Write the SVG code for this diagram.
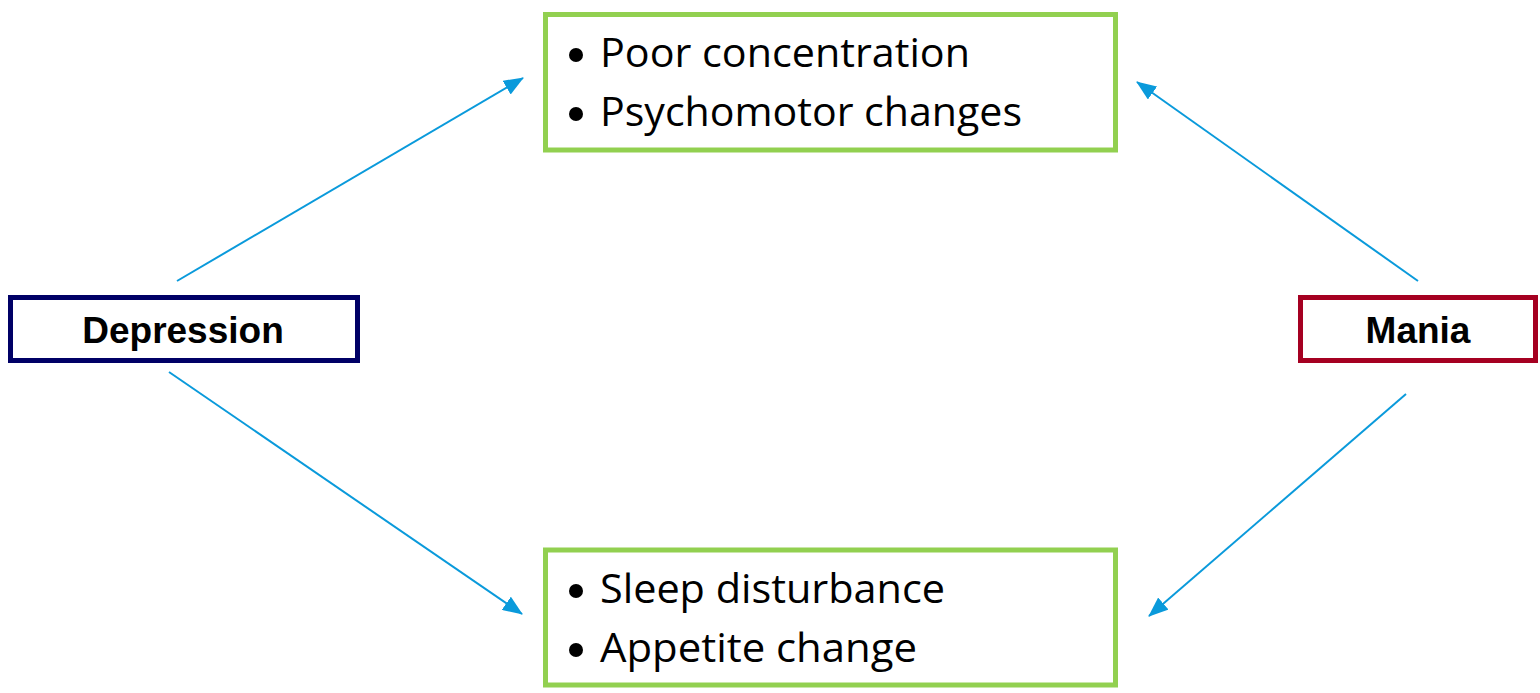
<svg xmlns="http://www.w3.org/2000/svg" width="1540" height="693" viewBox="0 0 1540 693">
  <style>
    .sym { fill: #ffffff; stroke: #92D050; stroke-width: 5; }
    .item { font-family: "Open Sans", "Noto Sans", sans-serif; font-size: 40px; fill: #000000; }
    .dot { fill: #000000; }
    .label { font-family: "Liberation Sans", Arial, sans-serif; font-size: 37px; font-weight: bold; fill: #000000; text-anchor: middle; }
    .link { stroke: #0A9ADB; stroke-width: 2; fill: none; marker-end: url(#head); }
  </style>
  <defs>
    <marker id="head" viewBox="0 0 20 16" refX="19" refY="8" markerWidth="20" markerHeight="16" markerUnits="userSpaceOnUse" orient="auto">
      <path d="M0,0 L20,8 L0,16 Z" fill="#0A9ADB"/>
    </marker>
  </defs>
  <rect width="1540" height="693" fill="#ffffff"/>

  <g id="connectors">
    <line class="link" x1="177" y1="281" x2="523" y2="78"/>
    <line class="link" x1="169" y1="372" x2="522" y2="614"/>
    <line class="link" x1="1418" y1="281" x2="1137" y2="82"/>
    <line class="link" x1="1406" y1="394" x2="1149" y2="616"/>
  </g>

  <g id="symptoms-top">
    <rect class="sym" x="545.5" y="14.5" width="570" height="135.5"/>
    <circle class="dot" cx="576" cy="55" r="7"/>
    <text class="item" x="600" y="67" textLength="370" lengthAdjust="spacingAndGlyphs">Poor concentration</text>
    <circle class="dot" cx="576" cy="114" r="7"/>
    <text class="item" x="600" y="126" textLength="422" lengthAdjust="spacingAndGlyphs">Psychomotor changes</text>
  </g>

  <g id="symptoms-bottom">
    <rect class="sym" x="545.5" y="550" width="570" height="135"/>
    <circle class="dot" cx="576" cy="591" r="7"/>
    <text class="item" x="600" y="603" textLength="345" lengthAdjust="spacingAndGlyphs">Sleep disturbance</text>
    <circle class="dot" cx="576" cy="650" r="7"/>
    <text class="item" x="600" y="662" textLength="317" lengthAdjust="spacingAndGlyphs">Appetite change</text>
  </g>

  <g id="depression">
    <rect x="10.5" y="297.5" width="347" height="63" fill="#ffffff" stroke="#000066" stroke-width="5"/>
    <text class="label" x="183" y="343">Depression</text>
  </g>

  <g id="mania">
    <rect x="1300.5" y="297.5" width="235" height="63" fill="#ffffff" stroke="#A50021" stroke-width="5"/>
    <text class="label" x="1418" y="343">Mania</text>
  </g>
</svg>
